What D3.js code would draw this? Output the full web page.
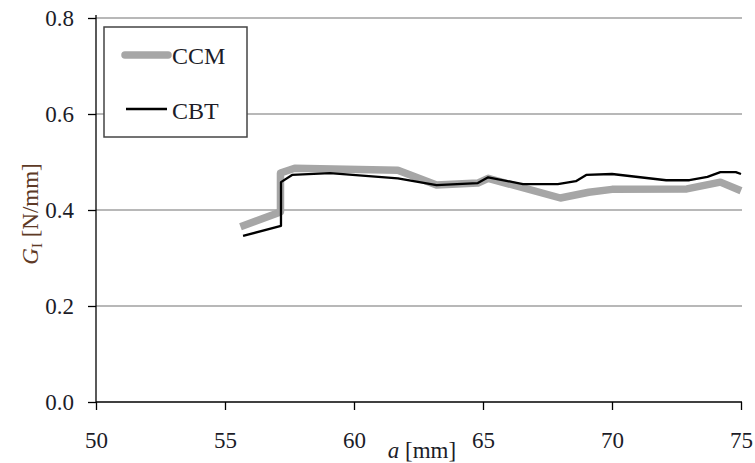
<!DOCTYPE html>
<html><head><meta charset="utf-8">
<script src="https://cdn.jsdelivr.net/npm/d3@7"></script>
<style>body{margin:0;background:#fff}svg{display:block}text{font-family:"Liberation Serif","Times New Roman",serif}</style>
</head><body>
<svg id="c" width="755" height="463"></svg>
<script>
const ccmA = [55.6, 57.15, 57.15, 57.7, 61.7, 63.2, 64.8, 65.2, 68.0, 69.1, 70.0, 72.9, 74.2, 75.0];
const ccmG = [0.365, 0.396, 0.477, 0.487, 0.483, 0.452, 0.456, 0.466, 0.425, 0.437, 0.443, 0.444, 0.458, 0.440];
const cbtA = [55.7, 57.17, 57.17, 57.6, 59.07, 61.7, 63.2, 64.8, 65.2, 66.55, 67.9, 68.6, 69.0, 70.0, 72.1, 73.0, 73.7, 74.2, 74.8, 75.0];
const cbtG = [0.346, 0.367, 0.458, 0.473, 0.477, 0.466, 0.452, 0.456, 0.468, 0.454, 0.454, 0.460, 0.473, 0.475, 0.462, 0.462, 0.469, 0.479, 0.479, 0.475];
const xTicks = [50, 55, 60, 65, 70, 75];
const yTicks = [0.0, 0.2, 0.4, 0.6, 0.8];
const seriesNames = ["CCM", "CBT"];

const svg = d3.select("#c");
const L = 96, R = 741, T = 18, B = 402;
const x = d3.scaleLinear().domain([50, 75]).range([L, R]);
const y = d3.scaleLinear().domain([0, 0.8]).range([B, T]);
const txt = "#1c1c28";
const FF = '"Liberation Serif","Times New Roman",serif';

// gridlines
svg.append("g").selectAll("line").data(yTicks.filter(d => d > 0)).join("line")
  .attr("x1", L).attr("x2", R + 1).attr("y1", d => y(d)).attr("y2", d => y(d))
  .attr("stroke", "#a0a0a0").attr("stroke-width", 1.5);

// axes
const ya = svg.append("g").attr("transform", `translate(${L},0)`)
  .call(d3.axisLeft(y).tickValues(yTicks).tickFormat(d3.format(".1f")).tickSizeOuter(0).tickSize(8).tickPadding(14));
const xa = svg.append("g").attr("transform", `translate(0,${B})`)
  .call(d3.axisBottom(x).tickValues(xTicks).tickSizeOuter(0).tickSize(8).tickPadding(22));
[ya, xa].forEach(g => {
  g.attr("font-size", null).attr("font-family", null);
  g.select(".domain").attr("stroke", "#000").attr("stroke-width", 1.3);
  g.selectAll(".tick line").attr("stroke", "#000").attr("stroke-width", 1.3);
  g.selectAll("text").attr("font-size", 23).attr("fill", txt).style("font-family", FF);
});
ya.select(".domain").attr("d", `M0,${B}V${T - 3}`);
xa.select(".domain").attr("d", `M${L},0H${R + 1}`);

// lines
const line = d3.line().x(d => x(d[0])).y(d => y(d[1]));
svg.append("path").datum(ccmA.map((a, i) => [a, ccmG[i]]))
  .attr("d", line).attr("fill", "none").attr("stroke", "#a6a6a6").attr("stroke-width", 7.5)
  .attr("stroke-linejoin", "round");
svg.append("path").datum(cbtA.map((a, i) => [a, cbtG[i]]))
  .attr("d", line).attr("fill", "none").attr("stroke", "#000").attr("stroke-width", 2.3)
  .attr("stroke-linejoin", "round");

// legend
const lg = svg.append("g");
lg.append("rect").attr("x", 104).attr("y", 27).attr("width", 143).attr("height", 110)
  .attr("fill", "#fff").attr("stroke", "#444").attr("stroke-width", 1.5);
lg.append("line").attr("x1", 125).attr("x2", 168).attr("y1", 55).attr("y2", 55)
  .attr("stroke", "#a6a6a6").attr("stroke-width", 7.5).attr("stroke-linecap", "round");
lg.append("line").attr("x1", 126).attr("x2", 167).attr("y1", 109).attr("y2", 109)
  .attr("stroke", "#000").attr("stroke-width", 2.3);
lg.append("text").attr("x", 172).attr("y", 64).attr("font-size", 24).attr("fill", txt).style("font-family", FF).text(seriesNames[0]);
lg.append("text").attr("x", 172).attr("y", 119).attr("font-size", 24).attr("fill", txt).style("font-family", FF).text(seriesNames[1]);

// axis titles
const yt = svg.append("text").attr("transform", "translate(38,214) rotate(-90)")
  .attr("text-anchor", "middle").attr("font-size", 23).attr("fill", "#5e3a26").style("font-family", FF);
yt.append("tspan").attr("font-style", "italic").text("G");
yt.append("tspan").attr("font-size", 15).attr("dy", 4).text("I");
yt.append("tspan").attr("dy", -4).text(" [N/mm]");

const xt = svg.append("text").attr("x", 422).attr("y", 458).attr("text-anchor", "middle")
  .attr("font-size", 23).attr("fill", txt).style("font-family", FF);
xt.append("tspan").attr("font-style", "italic").text("a");
xt.append("tspan").text(" [mm]");
</script>
</body></html>
